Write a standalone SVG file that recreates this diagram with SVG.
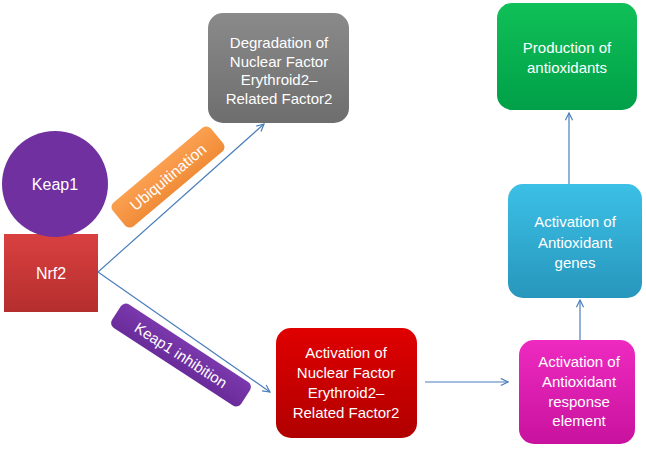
<svg xmlns="http://www.w3.org/2000/svg" width="646" height="449" viewBox="0 0 646 449">
<defs>
<linearGradient id="gGray" x1="0" y1="0" x2="0" y2="1"><stop offset="0" stop-color="#8a8a8a"/><stop offset="1" stop-color="#6e6e6e"/></linearGradient>
<linearGradient id="gRed" x1="0" y1="0" x2="0" y2="1"><stop offset="0" stop-color="#e00000"/><stop offset="1" stop-color="#b00000"/></linearGradient>
<linearGradient id="gPink" x1="0" y1="0" x2="0" y2="1"><stop offset="0" stop-color="#ee2ac0"/><stop offset="1" stop-color="#c8129e"/></linearGradient>
<linearGradient id="gCyan" x1="0" y1="0" x2="0" y2="1"><stop offset="0" stop-color="#3cc0e6"/><stop offset="1" stop-color="#2796bc"/></linearGradient>
<linearGradient id="gGreen" x1="0" y1="0" x2="0" y2="1"><stop offset="0" stop-color="#10c058"/><stop offset="1" stop-color="#00a048"/></linearGradient>
<linearGradient id="gPurple" x1="0" y1="0" x2="0" y2="1"><stop offset="0" stop-color="#7a38ac"/><stop offset="1" stop-color="#6a2c9a"/></linearGradient>
<linearGradient id="gNrf" x1="0" y1="0" x2="0" y2="1"><stop offset="0" stop-color="#d94040"/><stop offset="1" stop-color="#b52e2e"/></linearGradient>
<linearGradient id="gOrange" x1="0" y1="0" x2="0" y2="1"><stop offset="0" stop-color="#fba050"/><stop offset="1" stop-color="#f08c38"/></linearGradient>
<marker id="arr" viewBox="0 0 10 10" refX="9" refY="5" markerWidth="9" markerHeight="9" markerUnits="userSpaceOnUse" orient="auto">
<path d="M1,1 L9,5 L1,9" fill="none" stroke="#4a7ebb" stroke-width="1.3"/>
</marker>
</defs>
<style>
.t{font-family:"Liberation Sans",Arial,sans-serif;font-size:15px;fill:#ffffff;text-anchor:middle}
.c{fill:none;stroke:#4a7ebb;stroke-width:1.2;marker-end:url(#arr)}
</style>
<rect width="646" height="449" fill="#ffffff"/>
<g id="connectors">
<line class="c" x1="98" y1="272" x2="264" y2="124"/>
<line class="c" x1="98" y1="272" x2="270" y2="392"/>
<line class="c" x1="425" y1="382" x2="508" y2="382"/>
<line class="c" x1="580" y1="340" x2="580" y2="300"/>
<line class="c" x1="569" y1="188" x2="569" y2="113"/>
</g>
<g id="ubiquitination">
<rect x="104" y="161.5" width="128" height="31" rx="6" fill="url(#gOrange)" transform="rotate(-40 168 177)"/>
<text class="t" x="168" y="182.5" transform="rotate(-40 168 177)" style="font-size:15.5px">Ubiquitination</text>
</g>
<g id="keap1-inhibition">
<rect x="104" y="341" width="154" height="28" rx="6" fill="url(#gPurple)" transform="rotate(33 181 355)"/>
<text class="t" x="181" y="360.5" transform="rotate(33 181 355)">Keap1 inhibition</text>
</g>
<g id="nrf2">
<rect x="4" y="234" width="94" height="78" fill="url(#gNrf)"/>
<text class="t" x="51" y="279" style="font-size:16px">Nrf2</text>
</g>
<g id="keap1">
<circle cx="55" cy="184" r="53" fill="#7030a0"/>
<text class="t" x="55" y="190" style="font-size:16px">Keap1</text>
</g>
<g id="degradation">
<rect x="208" y="13" width="141" height="110" rx="15" fill="url(#gGray)"/>
<text class="t" x="279" y="48">Degradation of</text>
<text class="t" x="279" y="67">Nuclear Factor</text>
<text class="t" x="279" y="85">Erythroid2–</text>
<text class="t" x="279" y="104">Related Factor2</text>
</g>
<g id="activation-nrf2">
<rect x="276" y="328" width="141" height="110" rx="15" fill="url(#gRed)"/>
<text class="t" x="346" y="358">Activation of</text>
<text class="t" x="346" y="378">Nuclear Factor</text>
<text class="t" x="346" y="398">Erythroid2–</text>
<text class="t" x="346" y="418">Related Factor2</text>
</g>
<g id="are">
<rect x="519" y="340" width="116" height="104" rx="15" fill="url(#gPink)"/>
<text class="t" x="579" y="367">Activation of</text>
<text class="t" x="579" y="387">Antioxidant</text>
<text class="t" x="579" y="407">response</text>
<text class="t" x="579" y="426">element</text>
</g>
<g id="genes">
<rect x="508" y="184" width="134" height="114" rx="15" fill="url(#gCyan)"/>
<text class="t" x="575" y="227">Activation of</text>
<text class="t" x="575" y="248">Antioxidant</text>
<text class="t" x="575" y="268">genes</text>
</g>
<g id="production">
<rect x="497" y="3" width="140" height="107" rx="15" fill="url(#gGreen)"/>
<text class="t" x="567" y="53">Production of</text>
<text class="t" x="567" y="73">antioxidants</text>
</g>
</svg>
